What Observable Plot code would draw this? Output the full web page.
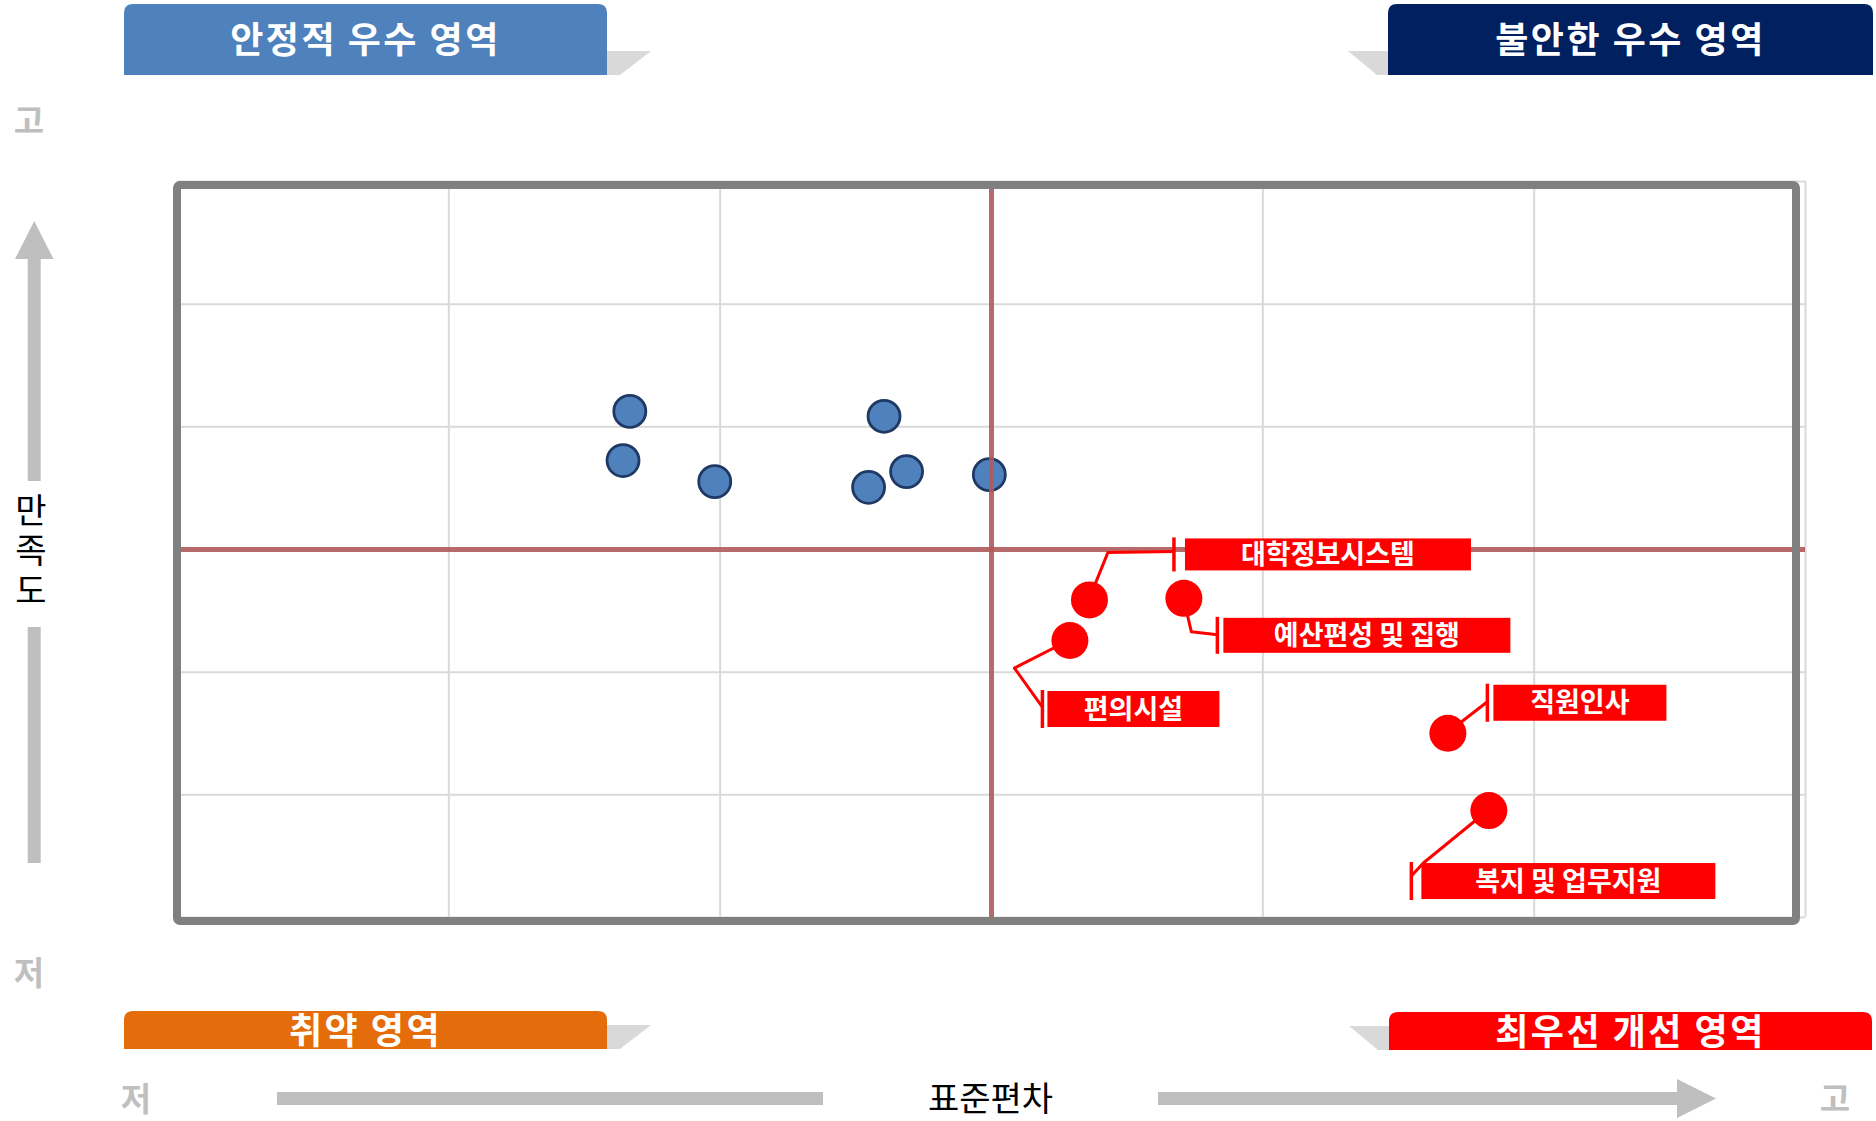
<!DOCTYPE html>
<html>
<head>
<meta charset="utf-8">
<script src="https://cdn.jsdelivr.net/npm/d3@7"></script>
<script src="https://cdn.jsdelivr.net/npm/@observablehq/plot@0.6"></script>
<style>
  html, body { margin: 0; padding: 0; background: #ffffff; }
  #chart { width: 1876px; height: 1121px; }
  svg { font-family: "Noto Sans CJK KR", "Noto Sans", sans-serif; }
</style>
</head>
<body>
<div id="chart"></div>
<script>
// ---------------- DATA ----------------
// Unlabeled items (stable excellence zone): standard deviation (x) and satisfaction (y), grid units
const blueX = [1.667, 1.642, 1.980, 2.604, 2.687, 2.547, 2.992];
const blueY = [4.126, 3.725, 3.553, 4.086, 3.635, 3.507, 3.610];
// Labeled items (top-priority improvement zone)
const redNames = ["대학정보시스템", "예산편성 및 집행", "편의시설", "직원인사", "복지 및 업무지원"];
const redX = [3.361, 3.709, 3.289, 4.682, 4.833];
const redY = [2.589, 2.602, 2.258, 1.502, 0.872];
// Scale domains and reference values
const xDomain = [0, 6];
const yDomain = [0, 6];
const gridTicks = [0, 1, 2, 4, 5, 6];
const meanX = 3;
const meanY = 3;
// Texts
const quadrantNames = ["안정적 우수 영역", "불안한 우수 영역", "취약 영역", "최우선 개선 영역"];
const xAxisTitle = "표준편차";
const yAxisTitle = "만족도";
const lowLabel = "저";
const highLabel = "고";

// ---------------- LAYOUT / STYLE ----------------
const W = 1876, H = 1121;
const M = {left: 177, right: 71, top: 181, bottom: 204};
const FONT = '"Noto Sans CJK KR", "Noto Sans", sans-serif';
// callout offsets (px, relative to the point)
const calloutLayout = [
  {leader: [[0, 0], [19, -47], [85, -48]], tickX: 85, tickY: [-62, -28], box: [96, -61, 286, 32]},
  {leader: [[0, 0], [8, 34], [34, 37]], tickX: 34, tickY: [19, 56], box: [40, 20, 287, 35]},
  {leader: [[0, 0], [-55, 28], [-27, 67]], tickX: -27, tickY: [50, 88], box: [-22, 51, 172, 36]},
  {leader: [[0, 0], [40, -31]], tickX: 40, tickY: [-49, -11], box: [46, -48, 173, 36]},
  {leader: [[0, 0], [-65, 53], [-77, 66]], tickX: -77, tickY: [52, 90], box: [-67, 53, 294, 36]}
];

const blue = blueX.map((x, i) => ({x, y: blueY[i]}));
const red = redX.map((x, i) => ({name: redNames[i], x, y: redY[i]}));

function callouts(index, scales) {
  const g = d3.create("svg:g");
  red.forEach((d, i) => {
    const px = scales.x(d.x), py = scales.y(d.y);
    const L = calloutLayout[i];
    g.append("polyline")
      .attr("points", L.leader.map(([dx, dy]) => `${px + dx},${py + dy}`).join(" "))
      .attr("fill", "none").attr("stroke", "#ff0000").attr("stroke-width", 3)
      .attr("stroke-linejoin", "round");
    g.append("line")
      .attr("x1", px + L.tickX).attr("x2", px + L.tickX)
      .attr("y1", py + L.tickY[0]).attr("y2", py + L.tickY[1])
      .attr("stroke", "#ff0000").attr("stroke-width", 3.5);
    const [bx, by, bw, bh] = L.box;
    g.append("rect")
      .attr("x", px + bx).attr("y", py + by).attr("width", bw).attr("height", bh)
      .attr("fill", "#ff0000");
    g.append("text")
      .attr("x", px + bx + bw / 2).attr("y", py + by + bh / 2)
      .attr("dy", "0.36em").attr("text-anchor", "middle")
      .attr("fill", "#ffffff").attr("font-weight", "bold")
      .attr("font-size", 27).attr("font-family", FONT)
      .text(d.name);
  });
  return g.node();
}

const svgEl = Plot.plot({
  width: W,
  height: H,
  marginLeft: M.left,
  marginRight: M.right,
  marginTop: M.top,
  marginBottom: M.bottom,
  style: {background: "#ffffff", fontFamily: FONT},
  x: {domain: xDomain, axis: null},
  y: {domain: yDomain, axis: null},
  marks: [
    Plot.ruleX(gridTicks, {stroke: "#d9d9d9", strokeWidth: 2}),
    Plot.ruleY(gridTicks, {stroke: "#d9d9d9", strokeWidth: 2}),
    Plot.dot(blue, {x: "x", y: "y", r: 16, fill: "#4f81bd", stroke: "#1f3864", strokeWidth: 2.8}),
    Plot.ruleX([meanX], {stroke: "#b05a5a", strokeWidth: 5, strokeOpacity: 0.9}),
    Plot.ruleY([meanY], {stroke: "#b05a5a", strokeWidth: 5, strokeOpacity: 0.9}),
    callouts,
    Plot.dot(red, {x: "x", y: "y", r: 18.5, fill: "#ff0000"})
  ]
});

// ---------------- DECORATIONS ----------------
const svg = d3.select(svgEl);
const deco = svg.append("g");

// frame
deco.append("rect")
  .attr("x", 177).attr("y", 185).attr("width", 1619).attr("height", 736)
  .attr("rx", 3).attr("fill", "none").attr("stroke", "#808080").attr("stroke-width", 8);

function topRounded(x, y, w, h, r) {
  return `M${x},${y + h}V${y + r}Q${x},${y} ${x + r},${y}H${x + w - r}Q${x + w},${y} ${x + w},${y + r}V${y + h}Z`;
}
const headers = [
  {name: quadrantNames[0], x: 124, y: 4, w: 483, h: 71, fill: "#4f81bd",
   shadow: [[607, 51], [651, 51], [620, 75], [607, 75]]},
  {name: quadrantNames[1], x: 1388, y: 4, w: 485, h: 71, fill: "#002060",
   shadow: [[1348, 51], [1388, 51], [1388, 75], [1377, 75]]},
  {name: quadrantNames[2], x: 124, y: 1011, w: 483, h: 38, fill: "#e46c0a",
   shadow: [[607, 1025], [651, 1025], [620, 1049], [607, 1049]]},
  {name: quadrantNames[3], x: 1389, y: 1012, w: 483, h: 38, fill: "#ff0000",
   shadow: [[1349, 1026], [1389, 1026], [1389, 1050], [1378, 1050]]}
];
headers.forEach(h => {
  deco.append("polygon").attr("points", h.shadow.map(p => p.join(",")).join(" ")).attr("fill", "#d9d9d9");
  deco.append("path").attr("d", topRounded(h.x, h.y, h.w, h.h, 9)).attr("fill", h.fill);
  deco.append("text")
    .attr("x", h.x + h.w / 2).attr("y", h.y + h.h / 2 + 1)
    .attr("dy", "0.36em").attr("text-anchor", "middle")
    .attr("fill", "#ffffff").attr("font-weight", "bold")
    .attr("font-size", 36).attr("letter-spacing", "2.5px").attr("font-family", FONT)
    .text(h.name);
});

const grey = "#bfbfbf";
// vertical arrow (satisfaction)
deco.append("polygon").attr("points", "34.3,221 15,259 53.5,259").attr("fill", grey);
deco.append("rect").attr("x", 27.7).attr("y", 258).attr("width", 13).attr("height", 223).attr("fill", grey);
deco.append("rect").attr("x", 27.7).attr("y", 627).attr("width", 13).attr("height", 236).attr("fill", grey);
deco.append("text")
  .attr("x", 31).attr("y", 553)
  .attr("text-anchor", "middle")
  .style("writing-mode", "vertical-rl")
  .style("text-orientation", "upright")
  .attr("letter-spacing", "6px")
  .attr("font-size", 34).attr("fill", "#000000").attr("font-family", FONT)
  .text(yAxisTitle);
// horizontal arrow (standard deviation)
deco.append("rect").attr("x", 277).attr("y", 1092).attr("width", 546).attr("height", 13).attr("fill", grey);
deco.append("rect").attr("x", 1158).attr("y", 1092).attr("width", 520).attr("height", 13).attr("fill", grey);
deco.append("polygon").attr("points", "1677,1079 1716,1098.5 1677,1118").attr("fill", grey);
deco.append("text").attr("x", 990.5).attr("y", 1099).attr("dy", "0.36em")
  .attr("text-anchor", "middle").attr("font-size", 34).attr("fill", "#000000")
  .attr("font-family", FONT).text(xAxisTitle);

// low / high markers
const marks2 = [
  {t: highLabel, x: 29, y: 121},
  {t: lowLabel, x: 29, y: 973},
  {t: lowLabel, x: 136, y: 1099},
  {t: highLabel, x: 1835, y: 1099}
];
marks2.forEach(m => {
  deco.append("text").attr("x", m.x).attr("y", m.y).attr("dy", "0.36em")
    .attr("text-anchor", "middle").attr("font-size", 33).attr("font-weight", "bold")
    .attr("fill", grey).attr("font-family", FONT).text(m.t);
});

document.getElementById("chart").appendChild(svgEl);
</script>
</body>
</html>
